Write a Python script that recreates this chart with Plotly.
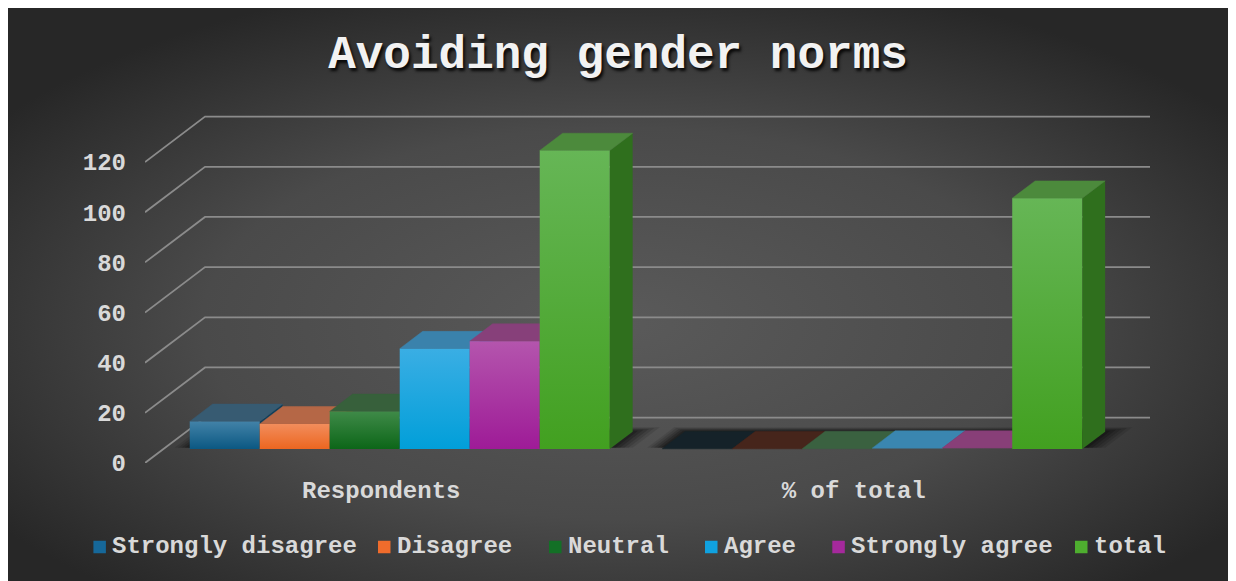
import base64
import plotly.graph_objects as go

# ---- data -------------------------------------------------------------
categories = ["Respondents", "% of total"]
series_names = ["Strongly disagree", "Disagree", "Neutral", "Agree",
                "Strongly agree", "total"]
respondents = [11, 10, 15, 40, 43, 119]
pct_of_total = [0.09, 0.08, 0.13, 0.34, 0.36, 100]
y_ticks = [0, 20, 40, 60, 80, 100, 120]

# ---- styles -----------------------------------------------------------
front_top = ["#4282a8", "#f28d5c", "#3f8a48", "#3aaee4", "#b455ad", "#66b656"]
front_bottom = ["#0b5882", "#ec6620", "#0c6618", "#019fd9", "#9e1b97", "#42a020"]
top_face = ["#375b72", "#b56746", "#37603b", "#3a82ac", "#87407a", "#4c8a3c"]
flat_top = ["#152229", "#46251b", "#3a6140", "#3a86b0", "#883f78", "#4c8a3c"]
side_face = ["#113f5a", "#a44c1c", "#0d4a15", "#0e6f96", "#6c1568", "#2f6f1d"]
legend_color = ["#16689a", "#f06c2c", "#137026", "#10a2e0", "#a5299c", "#4eae2f"]

FONT = "Courier New, Liberation Mono, monospace"
TEXT = "#d9d9d9"

# pixel frame of the plot area (front plane)
W, H = 1236, 581
L, R, T, B = 145, 1150, 112, 463

# 3-D projection: full floor depth and the slab occupied by the columns
DX, DY = 0.127, 18.1
F0, F1 = 0.308, 0.69
BW = 1 / 6.75
EDGE = 0.375 * BW


def proj(x, y, f):
    return x + f * DX, y + f * DY


def poly(pts):
    xs, ys = zip(*[proj(*p) for p in pts])
    return list(xs) + [xs[0]], list(ys) + [ys[0]]


fig = go.Figure()

# back wall gridlines with the receding left-wall segments
gx, gy = [], []
for v in y_ticks:
    x0, y0 = proj(0, v, 0)
    x1, y1 = proj(0, v, 1)
    gx += [x0, x1, 2 + DX, None]
    gy += [y0, y1, y1, None]
fig.add_trace(go.Scatter(x=gx, y=gy, mode="lines", hoverinfo="skip",
                         line=dict(color="#8b8b8b", width=1.8),
                         showlegend=False))

groups = [respondents, pct_of_total]

# soft floor shadows under each cluster (stacked translucent layers)
for g, vals in enumerate(groups):
    gl = g + EDGE
    gr = g + EDGE + len(vals) * BW
    for ex, ef, op in [(0.045, 0.10, 0.10), (0.036, 0.08, 0.12),
                       (0.027, 0.06, 0.15), (0.018, 0.04, 0.18),
                       (0.009, 0.02, 0.2)]:
        xs, ys = poly([(gl - ex * 0.8, 0, F0 + 0.03), (gr + ex, 0, F0 + 0.03),
                       (gr + ex, 0, F1 + ef), (gl - ex * 0.8, 0, F1 + ef)])
        fig.add_trace(go.Scatter(x=xs, y=ys, fill="toself", mode="lines",
                                 line=dict(width=0), fillcolor="black",
                                 opacity=op, hoverinfo="skip",
                                 showlegend=False))

# columns, painted left to right so neighbours hide shared side faces
for g, vals in enumerate(groups):
    for i, v in enumerate(vals):
        xl = g + EDGE + i * BW
        xr = xl + BW
        # side face
        xs, ys = poly([(xr, 0, F0), (xr, 0, F1), (xr, v, F1), (xr, v, F0)])
        fig.add_trace(go.Scatter(x=xs, y=ys, fill="toself", mode="lines",
                                 line=dict(width=0), fillcolor=side_face[i],
                                 hoverinfo="skip", showlegend=False))
        # top face
        tc = top_face[i] if v >= 1 else flat_top[i]
        xs, ys = poly([(xl, v, F0), (xr, v, F0), (xr, v, F1), (xl, v, F1)])
        fig.add_trace(go.Scatter(x=xs, y=ys, fill="toself", mode="lines",
                                 line=dict(width=0.5, color=tc), fillcolor=tc,
                                 hoverinfo="skip", showlegend=False))
        # front face
        if v > 0.5:
            xs, ys = poly([(xl, 0, F0), (xr, 0, F0), (xr, v, F0), (xl, v, F0)])
            fig.add_trace(go.Scatter(
                x=xs, y=ys, fill="toself", mode="lines",
                line=dict(width=0), fillcolor=front_bottom[i],
                fillgradient=dict(type="vertical",
                                  colorscale=[[0, front_bottom[i]],
                                              [1, front_top[i]]]),
                name=series_names[i], hoveron="fills",
                text=f"{series_names[i]} – {categories[g]}: {v}",
                hoverinfo="text", showlegend=False))


# ---- background -------------------------------------------------------
BG_L, BG_T, BG_R, BG_B = 8, 8, 1228, 581
svg = (
    '<svg xmlns="http://www.w3.org/2000/svg" width="1220" height="573" '
    'viewBox="0 0 1220 573" preserveAspectRatio="none">'
    '<defs><radialGradient id="g" cx="0.5" cy="0.55" r="0.62">'
    '<stop offset="0" stop-color="#5a5a5a"/>'
    '<stop offset="0.55" stop-color="#4a4a4a"/>'
    '<stop offset="1" stop-color="#272727"/>'
    '</radialGradient></defs>'
    '<rect width="1220" height="573" fill="url(#g)"/></svg>'
)
bg_src = "data:image/svg+xml;base64," + base64.b64encode(svg.encode()).decode()


def paper_x(px):
    return (px - L) / (R - L)


def paper_y(py):
    return (B - py) / (B - T)


images = [dict(source=bg_src, xref="paper", yref="paper",
               x=paper_x(BG_L), y=paper_y(BG_T),
               sizex=(BG_R - BG_L) / (R - L), sizey=(BG_B - BG_T) / (B - T),
               xanchor="left", yanchor="top", sizing="stretch",
               layer="below")]

# ---- legend -------------------------------------------------------------
legend_sq_x = [93.4, 378.0, 549.0, 705.0, 832.3, 1075.0]
SQ = 12.5
LEG_Y = 547
shapes, annotations = [], []
for i, name in enumerate(series_names):
    x0 = legend_sq_x[i]
    shapes.append(dict(type="rect", xref="paper", yref="paper",
                       x0=paper_x(x0), x1=paper_x(x0 + SQ),
                       y0=paper_y(LEG_Y + SQ / 2), y1=paper_y(LEG_Y - SQ / 2),
                       fillcolor=legend_color[i], line=dict(width=0)))
    annotations.append(dict(text=name, xref="paper", yref="paper",
                            x=paper_x(x0 + SQ + 4), y=paper_y(LEG_Y - 1),
                            xanchor="left", yanchor="middle", showarrow=False,
                            font=dict(family=FONT, size=24, color=TEXT,
                                      weight="bold")))

fig.update_layout(
    width=W, height=H,
    margin=dict(l=L, r=W - R, t=T, b=H - B, pad=0),
    paper_bgcolor="white",
    plot_bgcolor="rgba(0,0,0,0)",
    showlegend=False,
    images=images,
    shapes=shapes,
    annotations=annotations,
    title=dict(text="Avoiding gender norms", x=0.5, xref="container",
               y=1 - 52 / H, yref="container", yanchor="middle",
               font=dict(family=FONT, size=46, color="#f2f2f2", weight="bold",
                         shadow="2px 3px 3px rgba(0,0,0,0.85)")),
    xaxis=dict(range=[0, 2 + DX], tickvals=[0.5, 1.5], ticktext=categories,
               showgrid=False, zeroline=False, showline=False, ticks="",
               ticklabelstandoff=10, fixedrange=True,
               tickfont=dict(family=FONT, size=24, color=TEXT, weight="bold")),
    yaxis=dict(range=[0, (B - T) / 2.508], tickvals=y_ticks,
               showgrid=False, zeroline=False, showline=False, ticks="",
               ticklabelstandoff=18, fixedrange=True,
               tickfont=dict(family=FONT, size=24, color=TEXT, weight="bold")),
)

fig.write_html("out.html")
